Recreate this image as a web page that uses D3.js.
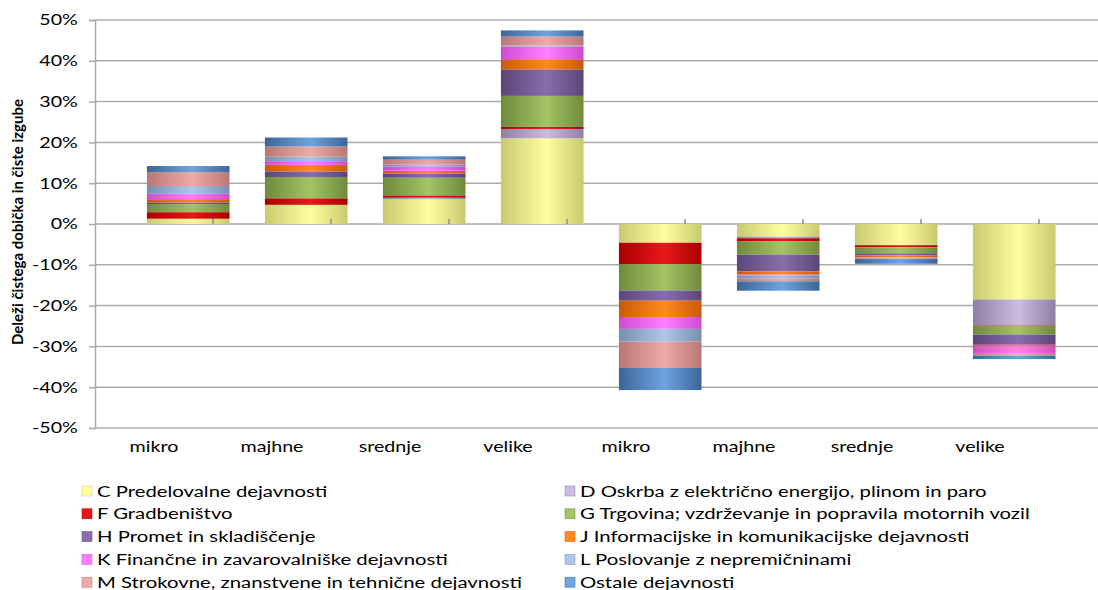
<!DOCTYPE html>
<html>
<head>
<meta charset="utf-8">
<script src="https://cdn.jsdelivr.net/npm/d3@7"></script>
<style>
  body { margin: 0; background: #fff; }
  text { font-family: Lato, "Open Sans", sans-serif; fill: #000; }
</style>
</head>
<body>
<svg id="chart" width="1098" height="590"></svg>
<script>
// categories (first four: net profit, last four: net loss)
var categories = ["mikro", "majhne", "srednje", "velike", "mikro", "majhne", "srednje", "velike"];

// shares per sector, in %
var sectorC = [1.3, 4.7, 6.05, 21.0, -4.6, -3.1, -5.2, -18.5];
var sectorD = [0, 0, 0.4, 2.3, 0, -0.4, 0, -6.4];
var sectorF = [1.6, 1.6, 0.57, 0.5, -5.2, -0.7, -0.5, -0.1];
var sectorG = [2.0, 5.2, 4.33, 7.6, -6.5, -3.3, -1.5, -2.1];
var sectorH = [0.4, 1.4, 0.98, 6.5, -2.5, -4.1, -0.5, -2.5];
var sectorJ = [0.8, 1.6, 0.74, 2.3, -4.0, -0.8, -0.5, -0.4];
var sectorK = [1.3, 0.9, 1.06, 3.3, -2.9, -0.2, -0.1, -1.6];
var sectorL = [1.9, 1.1, 0.41, 0.25, -3.1, -0.8, -0.1, -0.3];
var sectorM = [3.4, 2.5, 1.23, 2.2, -6.5, -0.65, -0.15, -0.4];
var sectorOstale = [1.5, 2.2, 0.82, 1.5, -5.4, -2.3, -1.2, -0.8];

var seriesNames = [
  "C Predelovalne dejavnosti",
  "D Oskrba z električno energijo, plinom in paro",
  "F Gradbeništvo",
  "G Trgovina; vzdrževanje in popravila motornih vozil",
  "H Promet in skladiščenje",
  "J Informacijske in komunikacijske dejavnosti",
  "K Finančne in zavarovalniške dejavnosti",
  "L Poslovanje z nepremičninami",
  "M Strokovne, znanstvene in tehnične dejavnosti",
  "Ostale dejavnosti"
];
var seriesValues = [sectorC, sectorD, sectorF, sectorG, sectorH, sectorJ, sectorK, sectorL, sectorM, sectorOstale];

var yTicks = [-50, -40, -30, -20, -10, 0, 10, 20, 30, 40, 50];

// colours: [edge, centre]
var colors = [
  ["#c9c971", "#ffff9f"],
  ["#8f7fa3", "#cbbde0"],
  ["#a80000", "#e81818"],
  ["#6f8a3c", "#a4c465"],
  ["#5a4678", "#8a6db0"],
  ["#c95a08", "#ff8a22"],
  ["#d04ad0", "#ff80ff"],
  ["#7890b0", "#aec7e8"],
  ["#b87775", "#eeaaa9"],
  ["#3c6598", "#6ea4e0"]
];

// the original text is horizontally stretched
var stretch = "scale(1.27,1)";

var svg = d3.select("#chart");

// gradients to get the cylinder look
var defs = svg.append("defs");
colors.forEach(function(c, i) {
  var g = defs.append("linearGradient").attr("id", "grad" + i)
    .attr("x1", "0%").attr("x2", "100%").attr("y1", "0%").attr("y2", "0%");
  g.append("stop").attr("offset", "0%").attr("stop-color", c[0]);
  g.append("stop").attr("offset", "55%").attr("stop-color", c[1]);
  g.append("stop").attr("offset", "100%").attr("stop-color", c[0]);
});

var x = d3.scaleBand().domain(d3.range(categories.length)).range([95, 1039]);
var y = d3.scaleLinear().domain([-50, 50]).range([428, 20]);

// gridlines
svg.append("g").selectAll("line").data(yTicks).enter().append("line")
  .attr("x1", 95).attr("x2", 1098)
  .attr("y1", function(d) { return y(d); })
  .attr("y2", function(d) { return y(d); })
  .attr("stroke", "#ababab").attr("stroke-width", 1.5);

// y axis
var yAxis = d3.axisLeft(y).tickValues(yTicks).tickSize(6).tickPadding(7.5)
  .tickFormat(function(d) { return d + "%"; });
var ya = svg.append("g").attr("transform", "translate(95,0)").call(yAxis);
ya.select(".domain").attr("stroke", "#ababab").attr("stroke-width", 1.5);
ya.selectAll(".tick line").attr("stroke", "#ababab").attr("stroke-width", 1.5);
ya.selectAll(".tick text").style("font-size", "15.5px").style("font-family", "Lato, sans-serif")
  .attr("fill", "#000").attr("transform", stretch);

// stacked data
var rows = categories.map(function(c, i) {
  var r = { idx: i };
  seriesValues.forEach(function(s, k) { r["s" + k] = s[i]; });
  return r;
});
var keys = seriesValues.map(function(s, k) { return "s" + k; });
var stacked = d3.stack().keys(keys).offset(d3.stackOffsetDiverging)(rows);

var barOff = x.bandwidth() * 0.44, barW = x.bandwidth() * 0.7;
svg.append("g").selectAll("g").data(stacked).enter().append("g")
  .attr("fill", function(d, k) { return "url(#grad" + k + ")"; })
  .selectAll("rect").data(function(d) { return d; }).enter().append("rect")
  .attr("x", function(d, i) { return x(i) + barOff; })
  .attr("width", barW)
  .attr("y", function(d) { return y(Math.max(d[0], d[1])); })
  .attr("height", function(d) { return Math.abs(y(d[0]) - y(d[1])); });

// category ticks on zero line
svg.append("g").selectAll("line").data(d3.range(1, categories.length + 1)).enter().append("line")
  .attr("x1", function(i) { return 95 + i * x.bandwidth(); })
  .attr("x2", function(i) { return 95 + i * x.bandwidth(); })
  .attr("y1", y(0)).attr("y2", y(0) - 5)
  .attr("stroke", "#8c8c8c").attr("stroke-width", 1.5);

// category labels
svg.append("g").selectAll("text").data(categories).enter().append("text")
  .attr("transform", function(d, i) {
    return "translate(" + (x(i) + x.bandwidth() / 2) + ",452) " + stretch;
  })
  .attr("text-anchor", "middle")
  .style("font-size", "15.5px")
  .text(function(d) { return d; });

// y axis title
svg.append("text")
  .attr("transform", "translate(23,222) rotate(-90)")
  .attr("text-anchor", "middle")
  .style("font-size", "15px").style("font-weight", "bold")
  .text("Deleži čistega dobička in čiste izgube");

// legend
var legend = svg.append("g").selectAll("g").data(seriesNames).enter().append("g")
  .attr("transform", function(d, k) {
    var col = k % 2, row = Math.floor(k / 2);
    return "translate(" + (col ? 565 : 82) + "," + (491 + row * 22.8) + ")";
  });
legend.append("rect").attr("x", 0).attr("y", -5).attr("width", 10).attr("height", 10)
  .attr("fill", function(d, k) { return colors[k][1]; })
  .attr("stroke", function(d, k) { return colors[k][0]; }).attr("stroke-width", 0.5);
legend.append("text").attr("transform", "translate(15,5.5) " + stretch)
  .style("font-size", "16px")
  .text(function(d) { return d; });
</script>
</body>
</html>
